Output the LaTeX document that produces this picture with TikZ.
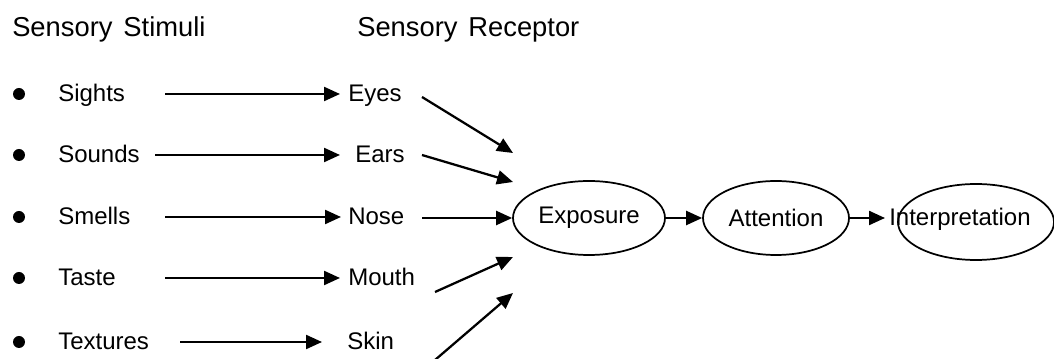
\documentclass[tikz,border=0pt]{standalone}
\usepackage{fontspec}
\setmainfont{Liberation Sans}
\usetikzlibrary{arrows.meta,shapes.geometric}
\begin{document}
\begin{tikzpicture}[x=0.75pt,y=-0.75pt,
  hdr/.style={anchor=base west,inner sep=0pt,font=\fontsize{20.5}{24}\selectfont},
  txt/.style={anchor=base west,inner sep=0pt,font=\fontsize{18}{21}\selectfont},
  bul/.style={circle,fill=black,inner sep=0pt,minimum size=9pt},
  stage/.style={ellipse,draw,line width=1.3pt,inner sep=0pt,minimum height=55.5pt,font=\fontsize{18}{21}\selectfont},
  arr/.style={line width=1.7pt,-{Triangle[length=12pt,width=10.5pt]}}]
\useasboundingbox (0,0) rectangle (1054,359);
% headers
\node[hdr] (h1) at (12,37) {Sensory\hspace{0.4em}Stimuli};
\node[hdr] (h2) at (357,37) {Sensory\hspace{0.4em}Receptor};
% bullets
\node[bul] (b1) at (19,94) {};
\node[bul] (b2) at (19,155) {};
\node[bul] (b3) at (19,217) {};
\node[bul] (b4) at (19,278) {};
\node[bul] (b5) at (19,342) {};
% stimuli
\node[txt] (s1) at (58,102) {Sights};
\node[txt] (s2) at (58,163) {Sounds};
\node[txt] (s3) at (58,225) {Smells};
\node[txt] (s4) at (58,286) {Taste};
\node[txt] (s5) at (58,350) {Textures};
% receptors
\node[txt] (r1) at (348,102) {Eyes};
\node[txt] (r2) at (355,163) {Ears};
\node[txt] (r3) at (348,225) {Nose};
\node[txt] (r4) at (348,286) {Mouth};
\node[txt] (r5) at (347,350) {Skin};
% stages
\node[stage,minimum width=114pt] (expo) at (589,218) {Exposure};
\node[stage,minimum width=109.5pt] (atten) at (776,218) {Attention};
\node[stage,minimum width=117pt,minimum height=57pt] (interpE) at (976,222) {};
\node[txt] (interp) at (889,226) {Interpretation};
% stimuli -> receptors
\draw[arr] ([shift={(107,-8)}]s1.base west) -- ([shift={(-8,-8)}]r1.base west);
\draw[arr] ([shift={(97,-8)}]s2.base west) -- ([shift={(-15,-8)}]r2.base west);
\draw[arr] ([shift={(107,-8)}]s3.base west) -- ([shift={(-7,-8)}]r3.base west);
\draw[arr] ([shift={(107,-8)}]s4.base west) -- ([shift={(-8,-8)}]r4.base west);
\draw[arr] ([shift={(122,-8)}]s5.base west) -- ([shift={(-25,-8)}]r5.base west);
% receptors -> exposure
\draw[arr] ([shift={(74,-5)}]r1.base west) -- ([shift={(-76,-65)}]expo.center);
\draw[arr] ([shift={(67,-8)}]r2.base west) -- ([shift={(-76,-36)}]expo.center);
\draw[arr] ([shift={(74,-7)}]r3.base west) -- (expo.west);
\draw[arr] ([shift={(87,6)}]r4.base west) -- ([shift={(-76,39)}]expo.center);
\draw[arr] ([shift={(88,10)}]r5.base west) -- ([shift={(-76,75)}]expo.center);
% stages
\draw[arr] (expo.east) -- (atten.west);
\draw[arr] (atten.east) -- ([shift={(-4,-8)}]interp.base west);
\end{tikzpicture}
\end{document}
